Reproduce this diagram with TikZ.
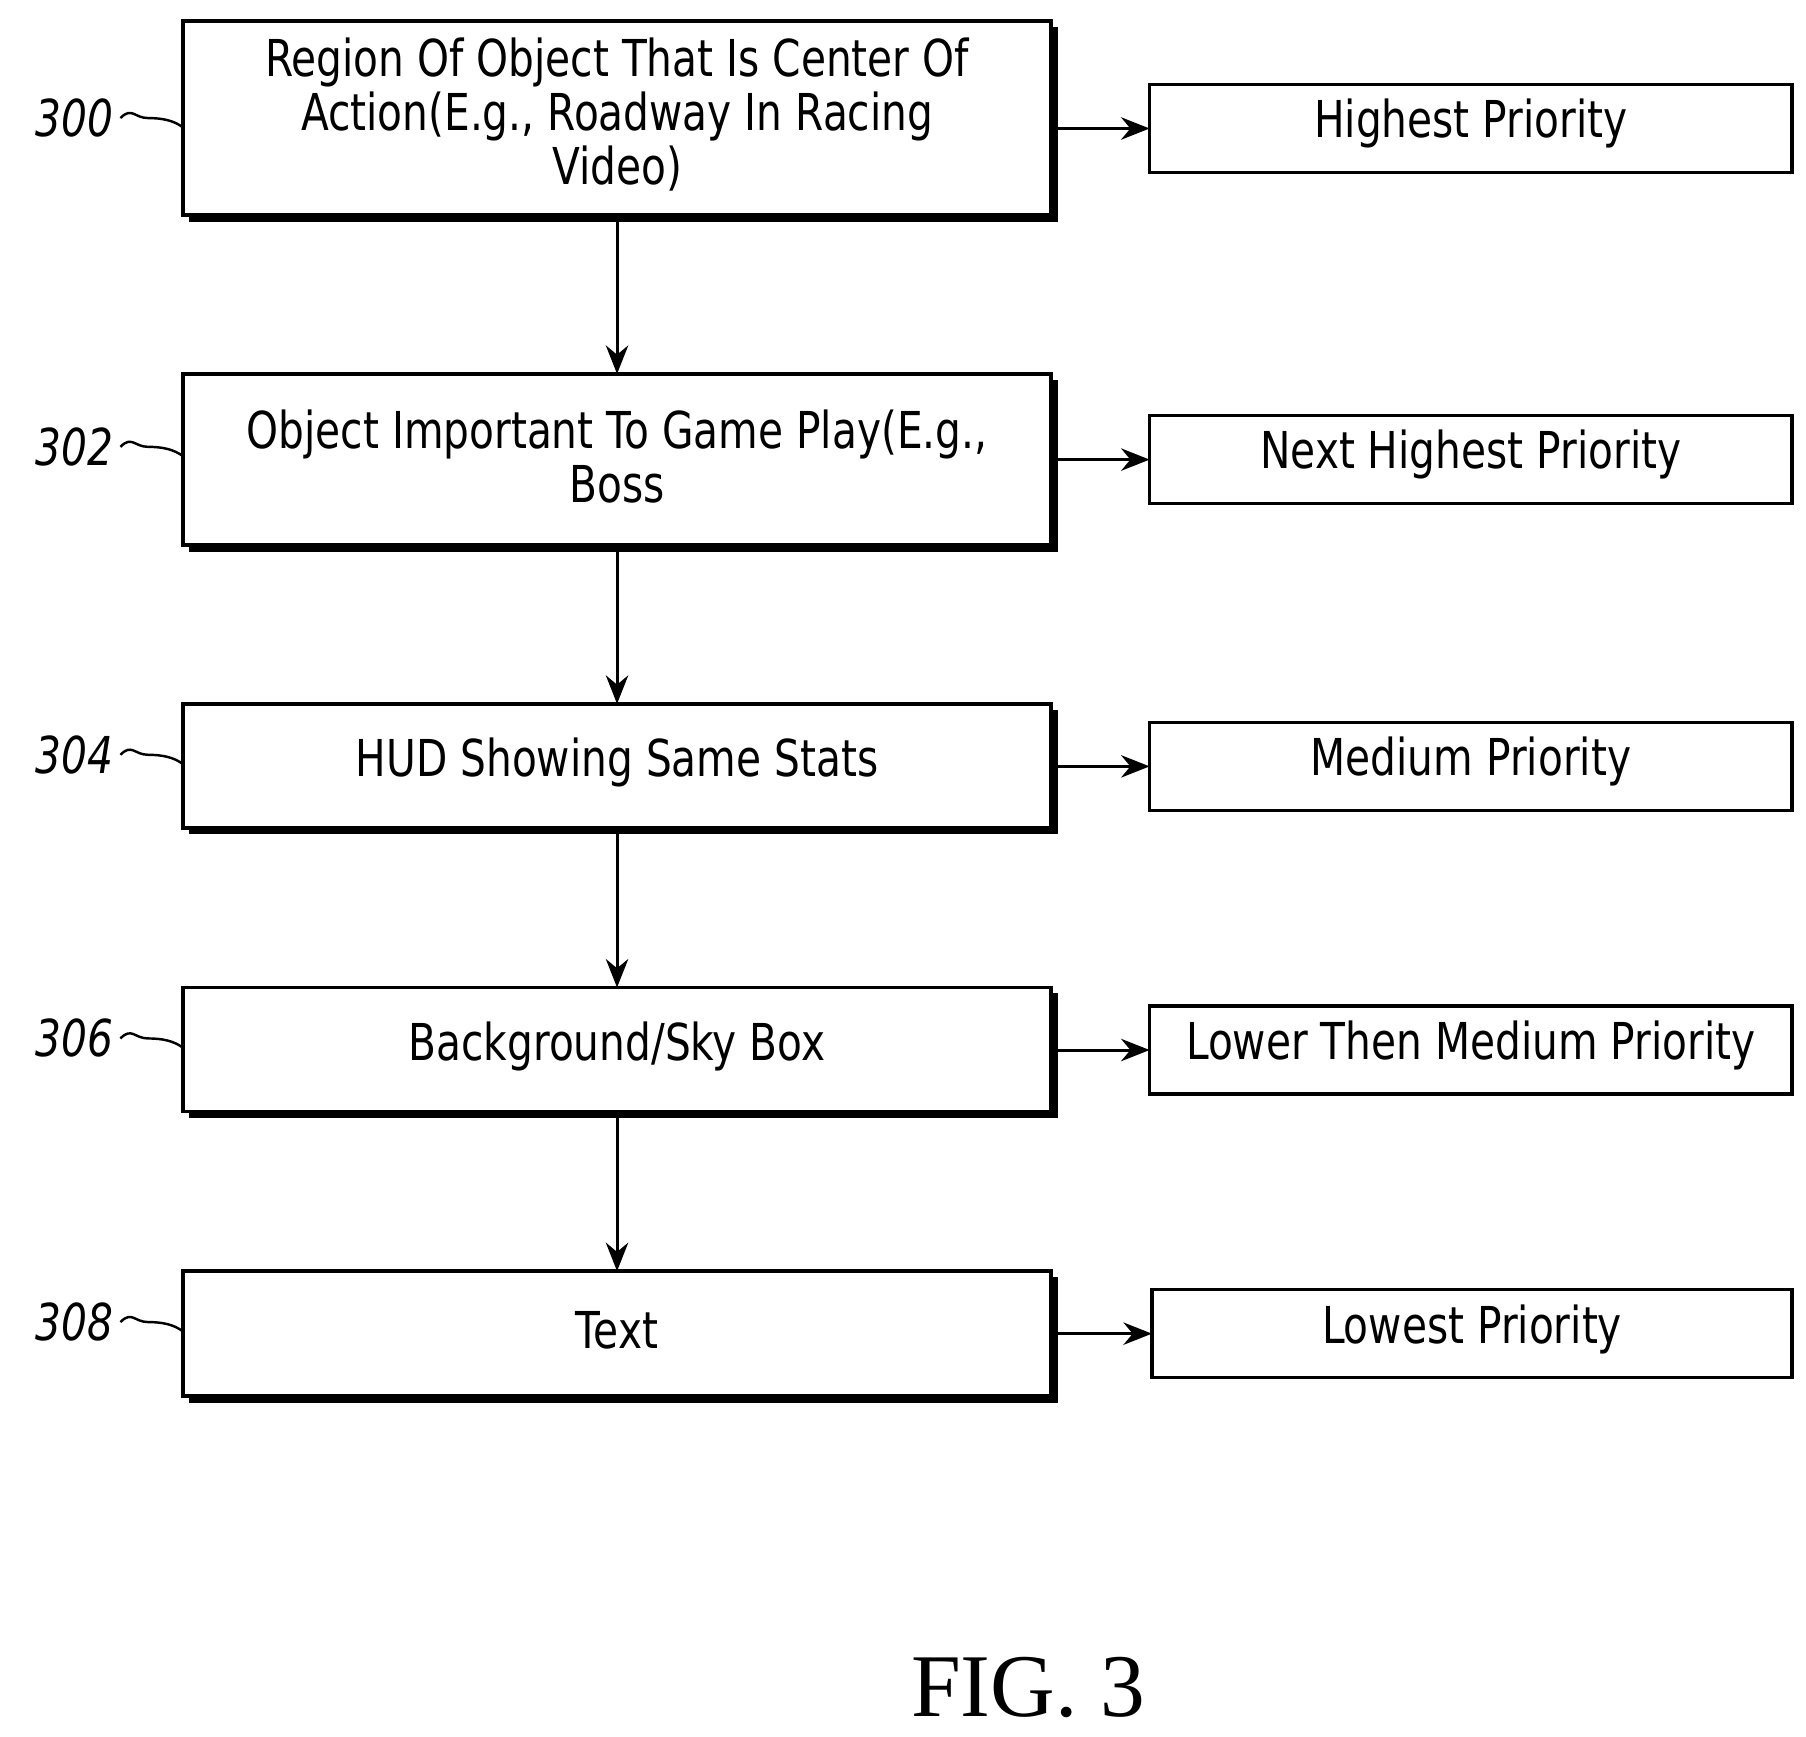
\documentclass[tikz,border=0pt]{standalone}
\usepackage{fontspec}
\setmainfont{DejaVu Sans}[FakeStretch=0.8]
\newfontfamily\figfont{Liberation Serif}
\usetikzlibrary{arrows.meta}
\begin{document}
\begin{tikzpicture}[x=0.02cm,y=-0.02cm,
  ltxt/.style={align=center,inner sep=0pt,font=\fontsize{25}{26.5}\selectfont},
  rtxt/.style={inner sep=0pt,font=\fontsize{25}{27}\selectfont},
  arr/.style={-{Stealth[length=14pt,width=11pt]},line width=1.5pt},
  num/.style={font=\fontsize{25}{27}\selectfont\itshape,anchor=east},
  sq/.style={line width=1.2pt}]
\useasboundingbox (0,0) rectangle (1560,1500);
\newcommand{\lb}[4]{% name, top, bottom, text
  \draw[line width=1.8pt] (158,#2) rectangle (908,#3);
  \draw[line width=4pt] (163,#3+2) -- (910,#3+2) -- (910,#2+5);
  \coordinate (#1n) at (533,#2); \coordinate (#1s) at (533,#3+4);
  \coordinate (#1w) at (158,{(#2+#3)/2}); \coordinate (#1e) at (912,{(#2+#3)/2});
  \node[ltxt] (#1) at (533,{(#2+#3)/2-3}) {#4};}
\newcommand{\rb}[4]{% name, ycenter, x0, text
  \draw[line width=1.6pt] (#3,#2-38) rectangle (1548,#2+38);
  \node[rtxt] (#1) at ({(#3+1548)/2},#2-4) {#4};
  \coordinate (#1w) at (#3,#2);}
\lb{a}{18}{186}{Region Of Object That Is Center Of\\Action(E.g., Roadway In Racing\\Video)}
\lb{b}{323}{471}{Object Important To Game Play(E.g.,\\Boss}
\lb{c}{608}{715}{HUD Showing Same Stats}
\lb{d}{853}{960}{Background/Sky Box}
\lb{e}{1098}{1206}{Text}
\rb{ra}{111}{993}{Highest Priority}
\rb{rb}{397}{993}{Next Highest Priority}
\rb{rc}{662}{993}{Medium Priority}
\rb{rd}{907}{993}{Lower Then Medium Priority}
\rb{re}{1152}{995}{Lowest Priority}
\foreach \l/\r in {a/ra,b/rb,c/rc,d/rd,e/re}{\draw[arr] (\l e |- \r w) -- (\r w);}
\draw[arr] (as) -- (bn);
\draw[arr] (bs) -- (cn);
\draw[arr] (cs) -- (dn);
\draw[arr] (ds) -- (en);
\foreach \n/\t/\y in {a/300/102,b/302/386,c/304/652,d/306/897,e/308/1142}{
  \node[num] (n\t) at (104,\y) {\t};
  \draw[sq] (n\t.east) .. controls +(10,-10) and +(-12,0) .. ++(24,0) .. controls +(12,0) and +(-8,-6) .. (158,\y+8);}
\node[font=\figfont\fontsize{44}{46}\selectfont] (fig) at (888,1458) {FIG. 3};
\end{tikzpicture}
\end{document}
